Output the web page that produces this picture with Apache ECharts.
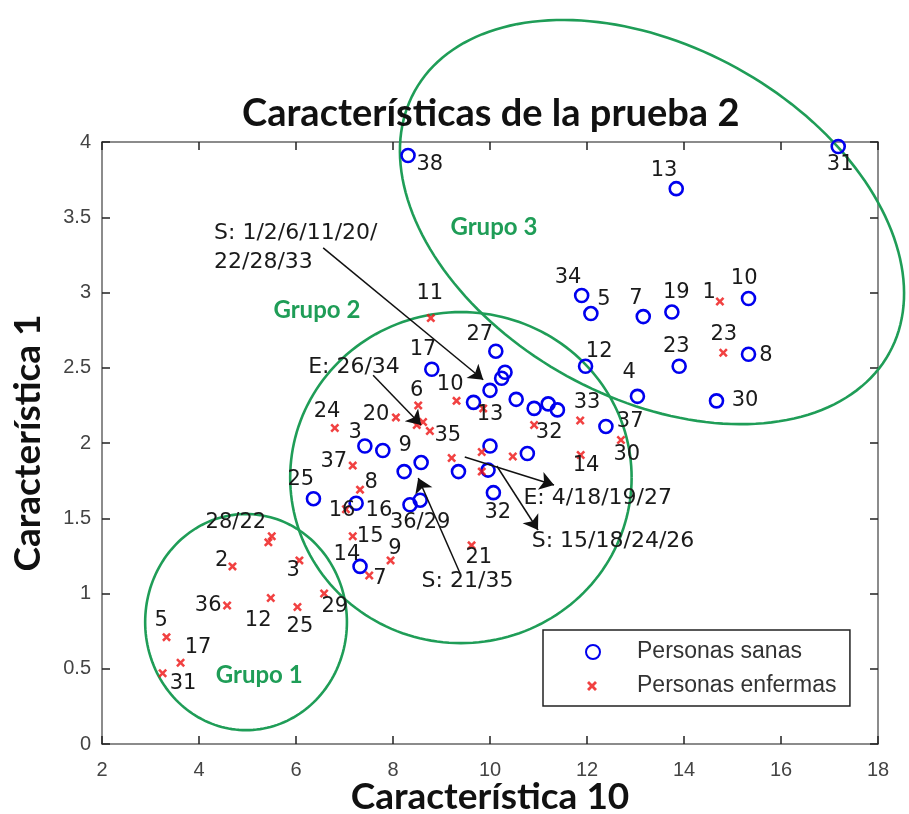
<!DOCTYPE html>
<html><head><meta charset="utf-8">
<script src="https://cdn.jsdelivr.net/npm/echarts@6/dist/echarts.min.js"></script>
<style>html,body{margin:0;padding:0;background:#fff}#c{width:909px;height:814px}</style>
</head><body><div id="c"></div>
<script>
// ---- data ----
const sanasX = [8.31,13.84,17.18,11.89,12.08,13.16,13.75,15.33,13.90,15.33,14.67,11.97,13.04,12.39,10.12,10.31,10.24,10.00,9.66,10.54,10.91,11.20,11.39,10.00,10.77,9.96,10.07,9.35,8.80,7.42,7.79,8.23,8.58,6.36,7.24,8.35,8.56,7.32];
const sanasY = [3.91,3.69,3.97,2.98,2.86,2.84,2.87,2.96,2.51,2.59,2.28,2.51,2.31,2.11,2.61,2.47,2.43,2.35,2.27,2.29,2.23,2.26,2.22,1.98,1.93,1.82,1.67,1.81,2.49,1.98,1.95,1.81,1.87,1.63,1.60,1.59,1.62,1.18];
const enfermasX = [14.74,14.81,8.78,8.52,8.06,8.49,8.62,8.76,6.80,7.17,7.32,7.03,7.17,7.95,7.51,9.62,9.31,9.21,9.86,9.83,9.83,10.91,11.86,11.87,12.70,10.47,5.50,5.43,4.69,6.07,4.58,5.48,6.03,6.58,3.33,3.62,3.25];
const enfermasY = [2.94,2.60,2.83,2.25,2.17,2.12,2.14,2.08,2.10,1.85,1.69,1.56,1.38,1.22,1.12,1.32,2.28,1.90,2.23,1.94,1.81,2.12,2.15,1.92,2.02,1.91,1.38,1.34,1.18,1.22,0.92,0.97,0.91,1.00,0.71,0.54,0.47];
const xTicks = [2,4,6,8,10,12,14,16,18];
const yTicks = [0,0.5,1,1.5,2,2.5,3,3.5,4];
const seriesNames = ['Personas sanas','Personas enfermas'];
// text annotations placed in data coordinates (like text(x,y,...))
const pointLabels = [
 [8.76,3.85,'38'],[13.59,3.81,'13'],[17.22,3.85,'31'],[11.61,3.10,'34'],[12.35,2.95,'5'],[13.01,2.96,'7'],
 [13.84,3.00,'19'],[14.52,3.00,'1'],[15.24,3.09,'10'],[13.84,2.64,'23'],[14.82,2.72,'23'],[15.69,2.58,'8'],
 [15.26,2.28,'30'],[12.25,2.61,'12'],[12.87,2.47,'4'],[12.89,2.14,'37'],[12.82,1.92,'30'],[12.00,2.27,'33'],
 [11.98,1.85,'14'],[11.22,2.07,'32'],[10.16,1.54,'32'],[9.79,2.72,'27'],[8.76,2.99,'11'],[8.62,2.62,'17'],
 [9.18,2.39,'10'],[10.00,2.19,'13'],[8.49,2.35,'6'],[7.65,2.19,'20'],[9.13,2.05,'35'],[6.64,2.21,'24'],
 [7.22,2.07,'3'],[8.25,1.98,'9'],[6.78,1.88,'37'],[7.55,1.74,'8'],[6.10,1.76,'25'],[6.95,1.55,'16'],
 [7.71,1.55,'16'],[8.56,1.47,'36/29'],[7.53,1.38,'15'],[7.05,1.26,'14'],[8.04,1.30,'9'],[7.73,1.10,'7'],
 [9.77,1.24,'21'],[4.76,1.47,'28/22'],[4.47,1.22,'2'],[5.94,1.15,'3'],[4.19,0.92,'36'],[5.22,0.82,'12'],
 [6.08,0.78,'25'],[6.80,0.91,'29'],[3.22,0.82,'5'],[3.98,0.64,'17'],[3.67,0.40,'31']
];
const arrowNotes = [
 [4.31,3.395,'S: 1/2/6/11/20/'],[4.31,3.20,'22/28/33'],[6.25,2.50,'E: 26/34'],
 [8.59,1.08,'S: 21/35'],[10.69,1.63,'E: 4/18/19/27'],[10.86,1.345,'S: 15/18/24/26']
];
const arrowFrom = [[6.56,3.296],[7.59,2.45],[9.38,1.136],[9.48,1.907],[10.14,1.847]];
const arrowTo   = [[9.86,2.42],[8.58,2.12],[8.52,1.767],[11.32,1.721],[10.99,1.422]];
// ellipses: centre, first semi-axis vector, second semi-axis vector (data units)
const groupCentres = [[4.97,0.81],[9.40,1.77],[13.34,3.468]];
const groupAxisU = [[2.08,0],[3.52,0],[4.893,-0.870]];
const groupAxisV = [[0,0.718],[0,1.10],[-1.753,-1.023]];
const groupNames = [[5.24,0.46,'Grupo 1'],[6.43,2.88,'Grupo 2'],[10.08,3.435,'Grupo 3']];

// ---- chart ----
const chart = echarts.init(document.getElementById('c'), null, {renderer:'canvas'});
const GREEN = '#1f9d57';
const X_PATH = 'path://M0,2 L2,0 L5,3 L8,0 L10,2 L7,5 L10,8 L8,10 L5,7 L2,10 L0,8 L3,5 Z';

function textSeries(items, style, align) {
  return {
    type:'custom', coordinateSystem:'cartesian2d', silent:true, clip:false, z:6,
    data: items.map(d => [d[0], d[1]]),
    renderItem: (params, api) => {
      const d = items[params.dataIndex];
      const p = api.coord([d[0], d[1]]);
      return {type:'text', x:p[0], y:p[1], style:Object.assign({text:d[2], align:align, verticalAlign:'middle'}, style)};
    }
  };
}

const axisCommon = {
  type:'value', splitLine:{show:false},
  axisLine:{show:true, onZero:false, lineStyle:{color:'#666', width:1.5}},
  axisTick:{show:true, inside:true, length:8, lineStyle:{color:'#222', width:1.5}},
};
const labelStyle = {fontSize:20, color:'#444', fontFamily:'Liberation Sans'};
const nameStyle = {fontFamily:'Lato', fontWeight:'bold', fontSize:37, color:'#111'};
const legendText = {fontSize:23, color:'#333', fontFamily:'Liberation Sans', lineHeight:24};

const option = {
  animation:false,
  backgroundColor:'#fff',
  title:{text:'Características de la prueba 2', left:237, top:90,
    textStyle:{fontFamily:'Lato', fontWeight:'bold', fontSize:38, color:'#111'}},
  grid:{left:102, top:142, width:776, height:602, containLabel:false, outerBoundsMode:'none'},
  xAxis:[
    Object.assign({}, axisCommon, {min:xTicks[0], max:xTicks[xTicks.length-1], interval:xTicks[1]-xTicks[0], position:'bottom',
      axisLabel:Object.assign({margin:16}, labelStyle),
      name:'Característica 10', nameLocation:'middle', nameGap:35, nameMoveOverlap:false, nameTextStyle:nameStyle}),
    Object.assign({}, axisCommon, {min:xTicks[0], max:xTicks[xTicks.length-1], interval:xTicks[1]-xTicks[0], position:'top',
      axisLabel:{show:false}})
  ],
  yAxis:[
    Object.assign({}, axisCommon, {min:yTicks[0], max:yTicks[yTicks.length-1], interval:yTicks[1]-yTicks[0], position:'left',
      axisLabel:Object.assign({margin:11}, labelStyle),
      name:'Característica 1', nameLocation:'middle', nameGap:55, nameMoveOverlap:false, nameTextStyle:nameStyle}),
    Object.assign({}, axisCommon, {min:yTicks[0], max:yTicks[yTicks.length-1], interval:yTicks[1]-yTicks[0], position:'right',
      axisLabel:{show:false}})
  ],
  legend:[
    {data:[seriesNames[0]], orient:'vertical', left:543, top:630, z:4,
     backgroundColor:'#fff', borderColor:'#222', borderWidth:1.5,
     padding:[10,48,42,42], itemWidth:14, itemHeight:14,
     textStyle:Object.assign({padding:[0,0,0,32]}, legendText)},
    {data:[seriesNames[1]], orient:'vertical', left:587, top:674, z:5,
     padding:0, itemWidth:10, itemHeight:10,
     textStyle:Object.assign({padding:[0,0,0,35]}, legendText)}
  ],
  series:[
    {type:'custom', coordinateSystem:'cartesian2d', silent:true, clip:false, z:1,
     data: groupCentres.map(c => [c[0], c[1]]),
     renderItem:(params, api) => {
       const i = params.dataIndex, c = groupCentres[i], u = groupAxisU[i], v = groupAxisV[i];
       const pts = [];
       for (let k = 0; k <= 180; k++) {
         const t = k / 180 * Math.PI * 2;
         pts.push(api.coord([c[0] + u[0]*Math.cos(t) + v[0]*Math.sin(t), c[1] + u[1]*Math.cos(t) + v[1]*Math.sin(t)]));
       }
       return {type:'polyline', shape:{points:pts}, style:{fill:null, stroke:GREEN, lineWidth:2.6}};
     }},
    {name:seriesNames[0], type:'scatter', z:4, symbol:'circle', symbolSize:13,
     itemStyle:{color:'rgba(255,255,255,0)', borderColor:'#0000ee', borderWidth:2.6, opacity:1},
     data: sanasX.map((x,i) => [x, sanasY[i]])},
    {name:seriesNames[1], type:'scatter', z:4, symbol:X_PATH, symbolSize:9,
     itemStyle:{color:'#ee1111'},
     data: enfermasX.map((x,i) => [x, enfermasY[i]])},
    {type:'lines', coordinateSystem:'cartesian2d', silent:true, z:5,
     symbol:['none','arrow'], symbolSize:[10,14],
     lineStyle:{color:'#111', width:1.5, opacity:1},
     data: arrowFrom.map((f,i) => ({coords:[f, arrowTo[i]]}))},
    textSeries(pointLabels, {fontSize:21, fontFamily:'DejaVu Sans', fill:'#1a1a1a'}, 'center'),
    textSeries(arrowNotes, {fontSize:22, fontFamily:'DejaVu Sans', fill:'#1a1a1a'}, 'left'),
    textSeries(groupNames, {fontSize:24, fontFamily:'Lato', fontWeight:'bold', fill:GREEN}, 'center')
  ]
};
chart.setOption(option);
</script>
</body></html>
